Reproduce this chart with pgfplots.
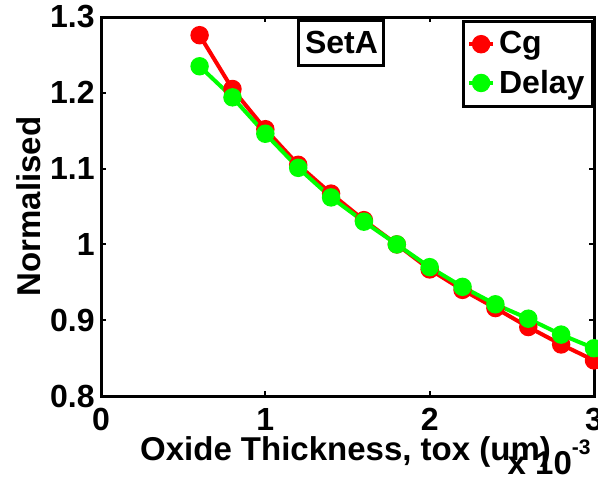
\documentclass[border=0pt]{standalone}
\usepackage{fontspec}
\setmainfont{Liberation Sans}
\usepackage{pgfplots}
\pgfplotsset{compat=1.18}
\newcommand{\matfont}{\fontsize{16}{19}\selectfont\bfseries}
\newcommand{\labfont}{\fontsize{16.5}{19}\selectfont\bfseries}
\begin{document}
\begin{tikzpicture}
\begin{axis}[
  at={(0pt,0pt)}, anchor=south west,
  scale only axis,
  width=246.5pt, height=189.5pt,
  xmin=0, xmax=3, ymin=0.8, ymax=1.3,
  xtick={0,1,2,3},
  ytick={0.8,0.9,1,1.1,1.2,1.3},
  scaled x ticks=false,
  tick align=inside,
  major tick length=2.5pt,
  every tick/.style={black, line width=1pt},
  axis line style={line width=1.5pt},
  clip=false,
  /pgf/number format/assume math mode=true,
  ticklabel style={font=\matfont},
  xticklabel style={anchor=north, inner sep=0pt, yshift=-6pt},
  yticklabel style={anchor=east, inner sep=0pt, xshift=-3pt},
  xlabel={Oxide Thickness, tox (um)},
  ylabel={Normalised},
  label style={font=\labfont},
  xlabel style={at={(axis description cs:0.496,-0.1689)}, anchor=base, inner sep=0pt},
  ylabel style={at={(axis description cs:-0.1237,0.5)}, anchor=base, rotate=0, inner sep=0pt},
  legend cell align=left,
  legend style={at={(axis description cs:1,0.992)}, anchor=north east,
    draw=black, line width=1.5pt, font=\matfont,
    inner xsep=2pt, inner ysep=3pt, row sep=2.5pt,
    /tikz/every even column/.append style={column sep=2pt}},
  legend image code/.code={
    \draw[mark repeat=2, mark phase=2, #1] plot coordinates {(0pt,0pt) (6pt,0pt) (12pt,0pt)};
  },
]
\addplot[red, line width=2pt, mark=*, mark size=3.6pt, mark options={fill=red, draw=red}]
  coordinates {
    (0.6,1.276) (0.8,1.205) (1.0,1.152) (1.2,1.105) (1.4,1.067)
    (1.6,1.032) (1.8,1.000) (2.0,0.967) (2.2,0.940) (2.4,0.916)
    (2.6,0.891) (2.8,0.868) (3.0,0.847)
  };
\addlegendentry{Cg}
\addplot[green, line width=2pt, mark=*, mark size=3.6pt, mark options={fill=green, draw=green}]
  coordinates {
    (0.6,1.235) (0.8,1.194) (1.0,1.146) (1.2,1.101) (1.4,1.062)
    (1.6,1.030) (1.8,1.000) (2.0,0.970) (2.2,0.944) (2.4,0.921)
    (2.6,0.902) (2.8,0.881) (3.0,0.863)
  };
\addlegendentry{Delay}
\node[draw=black, line width=1.5pt, minimum width=42.5pt, minimum height=22.5pt,
  inner sep=0pt, font=\matfont, anchor=center]
  at (axis description cs:0.4878,0.9327) {SetA};
\node[anchor=base east, inner sep=0pt, font=\labfont]
  at (axis description cs:0.994,-0.2084)
  {x 10\raisebox{10pt}{\fontsize{10.5}{12}\selectfont -3}};
\end{axis}
\pgfresetboundingbox
\path[use as bounding box] (-50.5pt,-40.5pt) rectangle (248.5pt,198pt);
\end{tikzpicture}
\end{document}
